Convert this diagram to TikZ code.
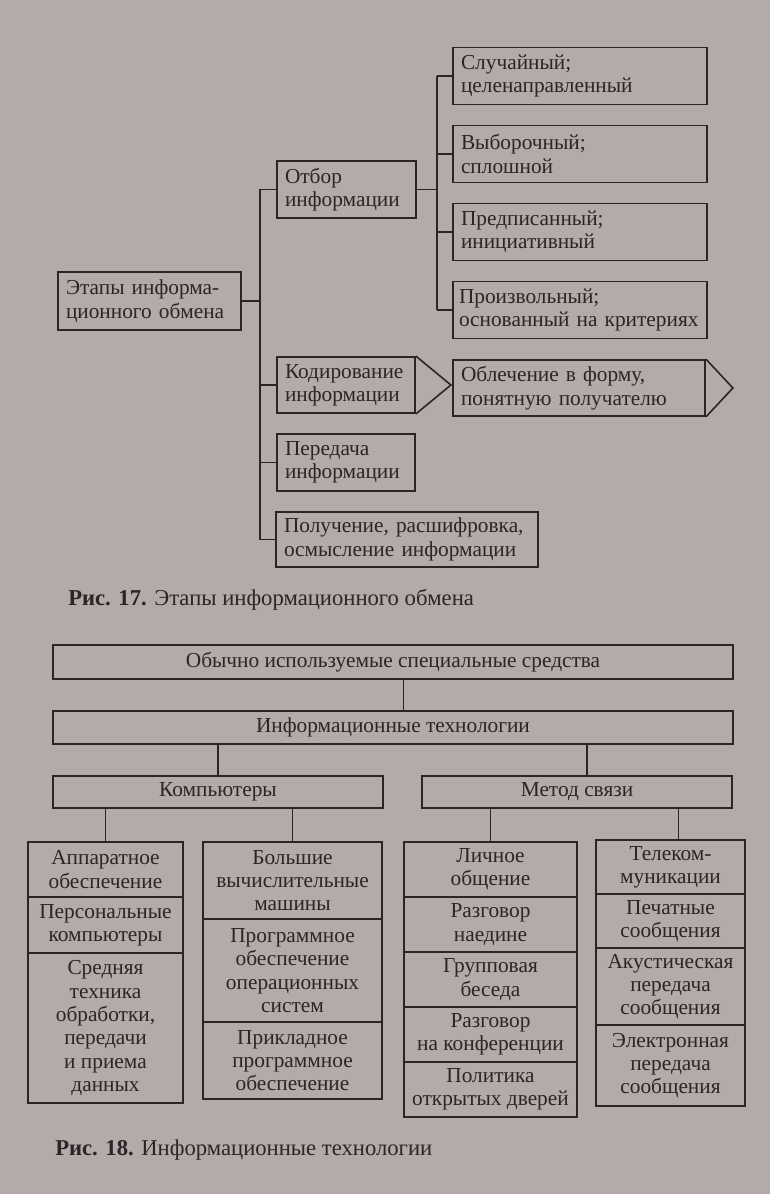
\documentclass[tikz,border=0pt]{standalone}
\usepackage{fontspec}
\setmainfont{Liberation Serif}
\usepackage{tikz}
\usetikzlibrary{calc}
\definecolor{paper}{HTML}{B3AAA9}
\definecolor{ink}{HTML}{2A2527}

\begin{document}
\begin{tikzpicture}[
        x=0.75pt, y=-0.75pt,
        every node/.style={font=\fontsize{16}{17.5}\selectfont, text=ink},
        box/.style={draw=ink, line width=1.35pt, inner xsep=6pt, inner ysep=0pt},
        lbox/.style={box, align=left},
        cbox/.style={box, align=center, inner xsep=2pt},
        link/.style={draw=ink, line width=1.2pt},
        figcap/.style={anchor=west, inner sep=0pt, font=\fontsize{17}{19}\selectfont}
    ]
    \fill[paper] (0,0) rectangle (770,1194);
    \useasboundingbox (0,0) rectangle (770,1194);

    % ================= рис. 17: этапы обмена =========================
    \begin{scope}
        \coordinate (trunkA) at (260,0);
        \coordinate (trunkB) at (437,0);

        \node[lbox, text width=125.25pt, minimum height=43.5pt] (etap) at (149.5,301)
        {Этапы информа-\\ционного обмена};
        \node[lbox, text width=92.25pt, minimum height=42.75pt] (otbor) at (346.5,189.5)
        {Отбор\\информации};
        \node[lbox, text width=91.5pt, minimum height=42pt] (kod) at (346,385)
        {Кодирование\\информации};
        \node[lbox, text width=91.5pt, minimum height=42.75pt] (pered) at (346,462.5)
        {Передача\\информации};
        \node[lbox, text width=184.5pt, minimum height=41.25pt] (poluch) at (407,539.5)
        {Получение, расшифровка,\\осмысление информации};

        % виды отбора
        \node[lbox, text width=178.5pt, minimum height=42.75pt] (sluch) at (580,76)
        {Случайный;\\целенаправленный};
        \node[lbox, text width=178.5pt, minimum height=42.75pt] (vybor) at (580,154)
        {Выборочный;\\сплошной};
        \node[lbox, text width=178.5pt, minimum height=42.75pt] (predp) at (580,232)
        {Предписанный;\\инициативный};
        \node[lbox, text width=181.5pt, inner xsep=4.5pt, minimum height=42.75pt] (proizv) at (580,310)
        {Произвольный;\\\mbox{основанный на критериях}};
        \node[lbox, text width=177pt, minimum height=42pt] (oblech) at (579,388)
        {Облечение в форму,\\понятную получателю};

        % стрелки-уголки
        \draw[link] (kod.north east) -- ($(kod.east)+(35,0)$) -- (kod.south east);
        \draw[link] (oblech.north east) -- ($(oblech.east)+(27,0)$) -- (oblech.south east);

        % связи
        \draw[link] (etap.east) -- (etap.east -| trunkA);
        \draw[link] (trunkA |- otbor.west) -- (trunkA |- poluch.west);
        \foreach \n in {otbor,kod,pered,poluch}
        \draw[link] (trunkA |- \n.west) -- (\n.west);
        \draw[link] (otbor.east) -- (otbor.east -| trunkB);
        \draw[link] (trunkB |- sluch.west) -- (trunkB |- proizv.west);
        \foreach \n in {sluch,vybor,predp,proizv}
        \draw[link] (trunkB |- \n.west) -- (\n.west);

        \node[figcap] (cap17) at (68,600) {\textbf{Рис. 17.} Этапы информационного обмена};
    \end{scope}

    % ================= рис. 18: информационные технологии ============
    \begin{scope}
        \node[cbox, minimum width=510pt, minimum height=25.5pt] (obych) at (393,662)
        {Обычно используемые специальные средства};
        \node[cbox, minimum width=510pt, minimum height=25pt] (infteh) at (393,727.5)
        {Информационные технологии};
        \node[cbox, minimum width=247.5pt, minimum height=24pt] (komp) at (218,792)
        {Компьютеры};
        \node[cbox, minimum width=232.5pt, minimum height=24pt] (metod) at (577,792)
        {Метод связи};

        % столбец 1
        \node[cbox, minimum width=116.25pt, minimum height=41.25pt] (apparat) at (105.5,869.5)
        {Аппаратное\\обеспечение};
        \node[cbox, minimum width=116.25pt, minimum height=42pt] (pers) at (105.5,925)
        {Персональные\\компьютеры};
        \node[cbox, minimum width=116.25pt, minimum height=112.5pt] (sredn) at (105.5,1028)
        {Средняя\\техника\\обработки,\\передачи\\и приема\\данных};

        % столбец 2
        \node[cbox, minimum width=134.25pt, minimum height=57.75pt] (bolsh) at (292.5,880.5)
        {Большие\\вычислительные\\машины};
        \node[cbox, minimum width=134.25pt, minimum height=77.25pt] (progr) at (292.5,970.5)
        {Программное\\обеспечение\\операционных\\систем};
        \node[cbox, minimum width=134.25pt, minimum height=57.75pt] (prikl) at (292.5,1060.5)
        {Прикладное\\программное\\обеспечение};

        % столбец 3
        \node[cbox, minimum width=129.75pt, minimum height=41.25pt] (lichn) at (490.5,869.5)
        {Личное\\общение};
        \node[cbox, minimum width=129.75pt, minimum height=41.25pt] (naed) at (490.5,924.5)
        {Разговор\\наедине};
        \node[cbox, minimum width=129.75pt, minimum height=41.25pt] (grupp) at (490.5,979.5)
        {Групповая\\беседа};
        \node[cbox, minimum width=129.75pt, minimum height=41.25pt] (konf) at (490.5,1034.5)
        {Разговор\\на конференции};
        \node[cbox, minimum width=129.75pt, minimum height=41.25pt] (polit) at (490.5,1089.5)
        {Политика\\открытых дверей};

        % столбец 4
        \node[cbox, minimum width=111.75pt, minimum height=40.5pt] (telek) at (670.5,867)
        {Телеком-\\муникации};
        \node[cbox, minimum width=111.75pt, minimum height=40.5pt] (pechat) at (670.5,921)
        {Печатные\\сообщения};
        \node[cbox, minimum width=111.75pt, minimum height=57.75pt] (akust) at (670.5,986.5)
        {Акустическая\\передача\\сообщения};
        \node[cbox, minimum width=111.75pt, minimum height=60.75pt] (elektr) at (670.5,1065.5)
        {Электронная\\передача\\сообщения};

        % связи
        \draw[link] ([xshift=8pt]obych.south) -- ([xshift=8pt]infteh.north);
        \draw[link] (infteh.south -| komp.north) -- (komp.north);
        \draw[link] ([xshift=7.5pt]infteh.south -| metod.north) -- ([xshift=7.5pt]metod.north);
        \draw[link] (komp.south -| apparat.north) -- (apparat.north);
        \draw[link] (komp.south -| bolsh.north) -- (bolsh.north);
        \draw[link] (metod.south -| lichn.north) -- (lichn.north);
        \draw[link] ([xshift=6pt]metod.south -| telek.north) -- ([xshift=6pt]telek.north);

        \node[figcap] (cap18) at (55,1150) {\textbf{Рис. 18.} Информационные технологии};
    \end{scope}
\end{tikzpicture}
\end{document}
